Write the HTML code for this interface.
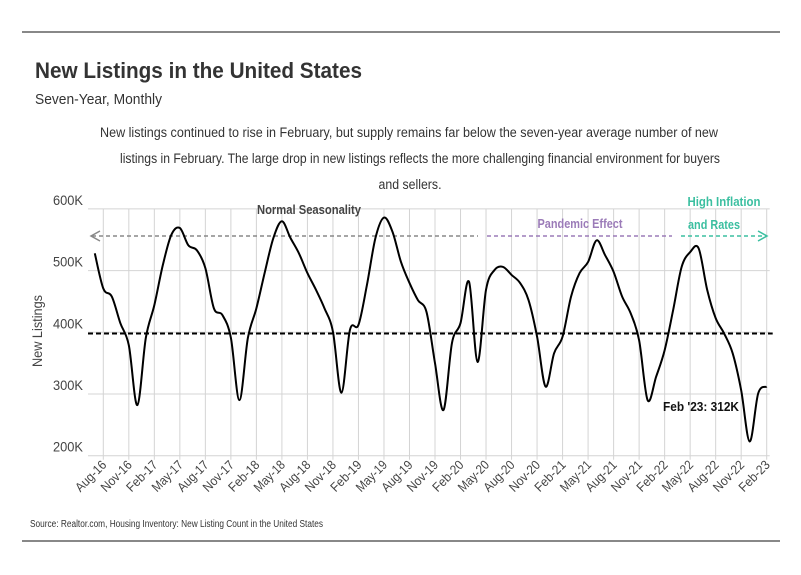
<!DOCTYPE html>
<html><head><meta charset="utf-8"><style>
html,body{margin:0;padding:0;background:#fff;}
svg{display:block;font-family:"Liberation Sans Narrow","Liberation Sans",sans-serif;}
</style></head><body>
<svg id="chart" width="801" height="575" viewBox="0 0 801 575" xmlns="http://www.w3.org/2000/svg">
<line x1="22" y1="32" x2="780" y2="32" stroke="#111" stroke-width="1"/>
<line x1="22" y1="541" x2="780" y2="541" stroke="#111" stroke-width="1"/>
<text x="35" y="78" font-size="22" font-weight="bold" fill="#333" textLength="327" lengthAdjust="spacingAndGlyphs">New Listings in the United States</text>
<text x="35" y="104" font-size="15" fill="#333" textLength="127" lengthAdjust="spacingAndGlyphs">Seven-Year, Monthly</text>
<g font-size="13.5" fill="#333" text-anchor="middle">
<text x="409" y="137" textLength="618" lengthAdjust="spacingAndGlyphs">New listings continued to rise in February, but supply remains far below the seven-year average number of new</text>
<text x="420" y="163" textLength="600" lengthAdjust="spacingAndGlyphs">listings in February. The large drop in new listings reflects the more challenging financial environment for buyers</text>
<text x="410" y="189" textLength="63" lengthAdjust="spacingAndGlyphs">and sellers.</text>
</g>
<g id="grid"></g>
<g id="yticks"></g>
<g id="xticks"></g>
<text transform="translate(42,331) rotate(-90)" font-size="14" fill="#444" text-anchor="middle" textLength="72" lengthAdjust="spacingAndGlyphs">New Listings</text>
<g id="annot">
<text x="309" y="214" font-size="12.5" font-weight="bold" fill="#444" text-anchor="middle" textLength="104" lengthAdjust="spacingAndGlyphs">Normal Seasonality</text>
<line x1="92" y1="236" x2="478" y2="236" stroke="#888" stroke-width="1.5" stroke-dasharray="4,3"/>
<polyline points="100,231 91,236 100,241" fill="none" stroke="#888" stroke-width="1.5"/>
<text x="580" y="228" font-size="12.5" font-weight="bold" fill="#9b7bb8" text-anchor="middle" textLength="85" lengthAdjust="spacingAndGlyphs">Pandemic Effect</text>
<line x1="487" y1="236" x2="672" y2="236" stroke="#9b7bb8" stroke-width="1.5" stroke-dasharray="4,3"/>
<text x="724" y="206" font-size="12.5" font-weight="bold" fill="#3bbfa0" text-anchor="middle" textLength="73" lengthAdjust="spacingAndGlyphs">High Inflation</text>
<text x="714" y="229" font-size="12.5" font-weight="bold" fill="#3bbfa0" text-anchor="middle" textLength="52" lengthAdjust="spacingAndGlyphs">and Rates</text>
<line x1="681" y1="236" x2="766" y2="236" stroke="#3bbfa0" stroke-width="1.5" stroke-dasharray="4,3"/>
<polyline points="758,231 767,236 758,241" fill="none" stroke="#3bbfa0" stroke-width="1.5"/>
<text x="663" y="411" font-size="12.5" font-weight="bold" fill="#111" textLength="76" lengthAdjust="spacingAndGlyphs">Feb '23: 312K</text>
</g>
<g id="series"></g>
<text x="30" y="527" font-size="10" fill="#333" textLength="293" lengthAdjust="spacingAndGlyphs">Source:  Realtor.com, Housing Inventory: New Listing Count in the United States</text>
</svg>
<script>
const months = ["Jul-16","Aug-16","Sep-16","Oct-16","Nov-16","Dec-16","Jan-17","Feb-17","Mar-17","Apr-17","May-17","Jun-17","Jul-17","Aug-17","Sep-17","Oct-17","Nov-17","Dec-17","Jan-18","Feb-18","Mar-18","Apr-18","May-18","Jun-18","Jul-18","Aug-18","Sep-18","Oct-18","Nov-18","Dec-18","Jan-19","Feb-19","Mar-19","Apr-19","May-19","Jun-19","Jul-19","Aug-19","Sep-19","Oct-19","Nov-19","Dec-19","Jan-20","Feb-20","Mar-20","Apr-20","May-20","Jun-20","Jul-20","Aug-20","Sep-20","Oct-20","Nov-20","Dec-20","Jan-21","Feb-21","Mar-21","Apr-21","May-21","Jun-21","Jul-21","Aug-21","Sep-21","Oct-21","Nov-21","Dec-21","Jan-22","Feb-22","Mar-22","Apr-22","May-22","Jun-22","Jul-22","Aug-22","Sep-22","Oct-22","Nov-22","Dec-22","Jan-23","Feb-23"];
const listings = [528,471,458,415,379,282,391,444,509,558,569,541,533,504,439,428,391,290,391,439,498,553,580,553,528,496,469,439,401,302,404,412,477,553,586,563,514,480,452,433,350,274,383,415,482,352,469,501,506,493,480,452,393,312,366,393,458,496,514,549,525,498,458,431,387,290,328,371,436,506,530,536,469,423,398,366,306,223,301,312];
const average = 398;
const yTicks = [200,300,400,500,600];
const yTickLabels = ["200K","300K","400K","500K","600K"];
const xTickLabels = ["Aug-16","Nov-16","Feb-17","May-17","Aug-17","Nov-17","Feb-18","May-18","Aug-18","Nov-18","Feb-19","May-19","Aug-19","Nov-19","Feb-20","May-20","Aug-20","Nov-20","Feb-21","May-21","Aug-21","Nov-21","Feb-22","May-22","Aug-22","Nov-22","Feb-23"];

const NS="http://www.w3.org/2000/svg";
const x0=94.8, dx=8.505;
function xScale(i){return x0+i*dx;}
function yScale(v){return 455.7-(v-200)*0.617;}
function mk(tag,attrs,parent){const e=document.createElementNS(NS,tag);for(const k in attrs)e.setAttribute(k,attrs[k]);parent.appendChild(e);return e;}
const grid=document.getElementById('grid'),yt=document.getElementById('yticks'),xt=document.getElementById('xticks'),ser=document.getElementById('series');
const xR=xScale(months.length-1)+3;
yTicks.forEach((v,k)=>{
  const l=mk('line',{x1:88,x2:xR,y1:yScale(v),y2:yScale(v),stroke:'#d4d4d4','stroke-width':1},grid);
  
  
  const t=mk('text',{x:83,y:yScale(v)-4,'font-size':14,fill:'#444','text-anchor':'end',textLength:30,lengthAdjust:'spacingAndGlyphs'},yt);
  t.textContent=yTickLabels[k];
  
  
});
xTickLabels.forEach(lab=>{
  const i=months.indexOf(lab);const x=xScale(i);
  const l=mk('line',{x1:x,x2:x,y1:yScale(600),y2:yScale(200)+4,stroke:'#d4d4d4','stroke-width':1},grid);
  
  
  const t=mk('text',{transform:`translate(${x+4},${yScale(200)+10}) rotate(-45)`,'font-size':13,fill:'#444','text-anchor':'end',textLength:38,lengthAdjust:'spacingAndGlyphs'},xt);
  t.textContent=lab;
  
  
});
const avg=mk('line',{x1:88,x2:xR+3,y1:yScale(average),y2:yScale(average),stroke:'#000','stroke-width':2,'stroke-dasharray':'5,3'},ser);


const P=listings.map((v,i)=>[xScale(i),yScale(v)]);
let d=`M${P[0][0]},${P[0][1]}`;
for(let i=0;i<P.length-1;i++){
  const p0=P[Math.max(0,i-1)],p1=P[i],p2=P[i+1],p3=P[Math.min(P.length-1,i+2)];
  const c1=[p1[0]+(p2[0]-p0[0])/6,p1[1]+(p2[1]-p0[1])/6];
  const c2=[p2[0]-(p3[0]-p1[0])/6,p2[1]-(p3[1]-p1[1])/6];
  d+=` C${c1[0]},${c1[1]} ${c2[0]},${c2[1]} ${p2[0]},${p2[1]}`;
}
const path=mk('path',{d:d,fill:'none',stroke:'#000','stroke-width':2,'stroke-linejoin':'round'},ser);


</script>
</body></html>
